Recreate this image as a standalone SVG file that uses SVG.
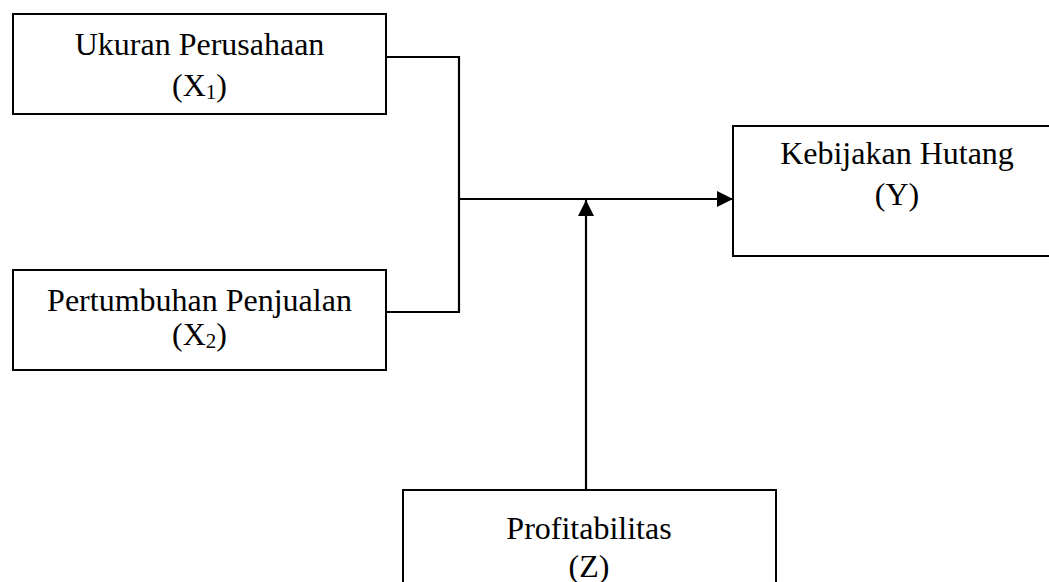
<svg xmlns="http://www.w3.org/2000/svg" width="1049" height="582" viewBox="0 0 1049 582">
<style>
.box{fill:#fff;stroke:#000;stroke-width:2}
.t{font-family:"Liberation Serif","Times New Roman",serif;font-size:32px;fill:#000;text-anchor:middle}
.sub{font-size:21px}
.c{fill:none;stroke:#000;stroke-width:2.2}
</style>
<defs>
<marker id="ah" markerUnits="userSpaceOnUse" markerWidth="16" markerHeight="16" viewBox="0 0 16 16" refX="16" refY="8" orient="auto">
<path d="M0,0 L16,8 L0,16 z" fill="#000"/>
</marker>
</defs>
<rect width="1049" height="582" fill="#fff"/>
<g id="x1">
<rect class="box" x="13" y="14" width="373" height="100"/>
<text class="t" x="199.5" y="55">Ukuran Perusahaan</text>
<text class="t" x="199.5" y="96">(X<tspan class="sub" dy="3">1</tspan><tspan dy="-3">)</tspan></text>
</g>
<g id="x2">
<rect class="box" x="13" y="270" width="373" height="100"/>
<text class="t" x="199.5" y="311">Pertumbuhan Penjualan</text>
<text class="t" x="199.5" y="345">(X<tspan class="sub" dy="3">2</tspan><tspan dy="-3">)</tspan></text>
</g>
<g id="y">
<rect class="box" x="733" y="126" width="330" height="130"/>
<text class="t" x="897" y="164">Kebijakan Hutang</text>
<text class="t" x="897" y="205">(Y)</text>
</g>
<g id="z">
<rect class="box" x="403" y="490" width="373" height="110"/>
<text class="t" x="589" y="539">Profitabilitas</text>
<text class="t" x="589" y="577">(Z)</text>
</g>
<g id="connectors">
<path class="c" d="M386,57 H459 V312 H386"/>
<path class="c" d="M459,199 H733" marker-end="url(#ah)"/>
<path class="c" d="M586,490 V200" marker-end="url(#ah)"/>
</g>
</svg>
